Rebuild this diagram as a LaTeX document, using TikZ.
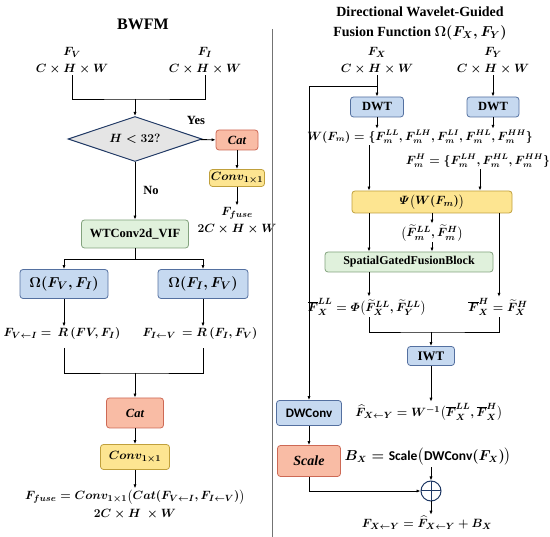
\documentclass[tikz,border=0pt]{standalone}
\usepackage{amsmath}
\usepackage{fontspec}
\setmainfont{Liberation Serif}
\newfontfamily\carlito{Carlito}
\usetikzlibrary{shapes.geometric,arrows.meta}
\definecolor{azulF}{RGB}{198,217,240}
\definecolor{azulD}{RGB}{84,112,160}
\definecolor{salmaoF}{RGB}{249,188,165}
\definecolor{salmaoD}{RGB}{205,105,85}
\definecolor{amareloF}{RGB}{253,229,145}
\definecolor{amareloD}{RGB}{192,160,60}
\definecolor{verdeF}{RGB}{224,241,220}
\definecolor{verdeD}{RGB}{130,162,125}
\definecolor{marinho}{RGB}{31,56,100}
\tikzset{
  arr/.style={-{Latex[length=4pt,width=3.2pt]}},
  caixa/.style={draw, rounded corners=3pt, line width=0.8pt, inner sep=1pt},
  azul/.style={caixa, fill=azulF, draw=azulD},
  salmao/.style={caixa, fill=salmaoF, draw=salmaoD},
  amarelo/.style={caixa, fill=amareloF, draw=amareloD},
  verde/.style={caixa, fill=verdeF, draw=verdeD},
  rotulo/.style={inner sep=1pt},
}
\begin{document}
\begin{tikzpicture}[x=1pt, y=-1pt, line width=0.9pt, font=\fontsize{12.5}{14}\selectfont\bfseries\boldmath] %Escala em pixels
	\useasboundingbox (0,0) rectangle (550,537);
		%Painel esquerdo: BWFM
	\node[font=\fontsize{16}{18}\selectfont\bfseries] (tit1) at (143,24) {BWFM};
	\node[rotulo] (fv) at (72,52) {$F_V$};
	\node[rotulo] (fvd) at (72,69) {$C\times H\times W$};
	\node[rotulo] (fi) at (205,52) {$F_I$};
	\node[rotulo] (fid) at (205,69) {$C\times H\times W$};
	\coordinate (jn1) at (135,99);
	\node[diamond, draw=marinho, fill=black!10, line width=1pt, aspect=3, minimum width=134pt, minimum height=45pt, inner sep=0pt] (cond) at (135,139) {$H<32?$};
	\draw (fvd) |- (jn1) -| (fid); %Junção das entradas
	\draw[arr] (jn1) -- (cond);
	\node (yes) at (196,120) {Yes};
	\node[salmao, minimum width=42pt, minimum height=20pt] (cat1) at (237,140) {$\mathit{Cat}$};
	\node[amarelo, minimum width=55pt, minimum height=17pt] (conv1) at (237,178) {$Conv_{1\times1}$};
	\node[rotulo] (ff1) at (237,213) {$F_{fuse}$};
	\node[rotulo] (ff1d) at (237,229) {$2C\times H\times W$};
	\draw[arr] (cond) -- (cat1);
	\draw[arr] (cat1) -- (conv1);
	\draw[arr] (conv1) -- (ff1);
	\node (no) at (151,190) {No};
	\node[verde, minimum width=107pt, minimum height=28pt] (wt) at (135,234) {WTConv2d\_VIF};
	\draw[arr] (cond) -- (wt);
	\coordinate (sp) at (135,259);
	\node[azul, minimum width=88pt, minimum height=29pt, font=\fontsize{15}{17}\selectfont\bfseries\boldmath] (om1) at (64,284) {$\Omega(F_V, F_I)$};
	\node[azul, minimum width=90pt, minimum height=29pt, font=\fontsize{15}{17}\selectfont\bfseries\boldmath] (om2) at (203,284) {$\Omega(F_I, F_V)$};
	\draw (wt) -- (sp);
	\draw[arr] (sp) -| (om1);
	\draw[arr] (sp) -| (om2);
	\node[rotulo] (r1) at (62,334) {$F_{V\leftarrow I}=\,R\,(FV, F_I)$};
	\node[rotulo] (r2) at (200,334) {$F_{I\leftarrow V}\,=R\,(F_I, F_V)$};
	\draw[arr] (om1) -- (om1 |- r1.north);
	\draw[arr] (om2) -- (om2 |- r2.north);
	\coordinate (jn2) at (135,373);
	\draw (om1 |- 0,348) |- (jn2) -| (om2 |- 0,348); %Junção dos ramos
	\node[salmao, minimum width=57pt, minimum height=30pt] (cat2) at (135,413) {$\mathit{Cat}$};
	\node[amarelo, minimum width=69pt, minimum height=25pt] (conv2) at (135,457) {$Conv_{1\times1}$};
	\node[rotulo] (ff2) at (135,497) {$F_{fuse}=Conv_{1\times1}\big(Cat(F_{V\leftarrow I}, F_{I\leftarrow V})\big)$};
	\node[rotulo] (ff2d) at (135,514) {$2C\times H\ \times W$};
	\draw[arr] (jn2) -- (cat2);
	\draw[arr] (cat2) -- (conv2);
	\draw[arr] (conv2) -- (ff2);
		%Divisória
	\draw[black!55, line width=1pt] (272,29) -- (272,537);
		%Painel direito: função de fusão
	\node[font=\fontsize{14}{16}\selectfont\bfseries] (tit2) at (420,12) {Directional Wavelet-Guided};
	\node[font=\fontsize{14}{16}\selectfont\bfseries\boldmath] (tit3) at (420,33) {Fusion Function $\Omega(F_X, F_Y)$};
	\node[rotulo] (fx) at (377,52) {$F_X$};
	\node[rotulo] (fxd) at (377,69) {$C\times H\times W$};
	\node[rotulo] (fy) at (493,52) {$F_Y$};
	\node[rotulo] (fyd) at (493,69) {$C\times H\times W$};
	\node[azul, minimum width=53pt, minimum height=20pt] (dwt1) at (377,107) {DWT};
	\node[azul, minimum width=52pt, minimum height=20pt] (dwt2) at (493,107) {DWT};
	\coordinate (fb) at (377,86);
	\draw[arr] (fxd) -- (dwt1);
	\draw[arr] (fyd) -- (dwt2);
	\node[rotulo, font=\fontsize{12}{14}\selectfont\bfseries\boldmath] (wf) at (420,137) {$W(F_m)=\{F_m^{LL}, F_m^{LH}, F_m^{LI}, F_m^{HL}, F_m^{HH}\}$};
	\node[rotulo, font=\fontsize{12}{14}\selectfont\bfseries\boldmath] (fh) at (478,161) {$F_m^{H}=\{F_m^{LH}, F_m^{HL}, F_m^{HH}\}$};
	\draw[arr] (dwt1) -- (dwt1 |- wf.north);
	\draw[arr] (dwt2) -- (dwt2 |- wf.north);
	\node[amarelo, minimum width=160pt, minimum height=22pt] (psi) at (432,202) {$\varPsi\big(W(F_m)\big)$};
	\coordinate (lx) at (369,0);
	\coordinate (rx) at (499,0);
	\draw[arr] (wf.south -| lx) -- (psi.north -| lx);
	\draw[arr] (fh.south -| 480,0) -- (psi.north -| 480,0);
	\node[rotulo] (ft) at (432,233) {$\big(\widetilde F_m^{LL}, \widetilde F_m^{H}\big)$};
	\node[verde, minimum width=168pt, minimum height=20pt, font=\fontsize{12}{14}\selectfont\bfseries] (sg) at (409,262) {SpatialGatedFusionBlock};
	\draw[arr] (psi.south -| lx) -- (sg.north -| lx);
	\draw[arr] (psi.south -| ft) -- (ft);
	\draw[arr] (ft) -- (sg.north -| ft);
	\node[rotulo] (fbl) at (367,307) {$\overline F_X^{LL}=\varPhi\big(\widetilde F_X^{LL}, \widetilde F_Y^{LL}\big)$};
	\node[rotulo] (fbh) at (498,307) {$\overline F_X^{H}=\widetilde F_X^{H}$};
	\draw[arr] (sg.south -| lx) -- (fbl.north -| lx);
	\draw[arr] (psi.south -| rx) -- (fbh.north -| rx);
	\coordinate (jn3) at (431,332);
	\draw (fbl.south -| lx) |- (jn3) -| (fbh.south -| rx); %Junção LL e H
	\node[azul, minimum width=47pt, minimum height=19pt, font=\fontsize{13}{15}\selectfont\bfseries] (iwt) at (431,356) {IWT};
	\draw[arr] (jn3) -- (iwt);
	\node[rotulo] (fhat) at (429,412) {$\widehat F_{X\leftarrow Y}=W^{-1}\big(\overline F_X^{LL}, \overline F_X^{H}\big)$};
	\draw[arr] (iwt) -- (iwt |- fhat.north);
	\node[azul, minimum width=65pt, minimum height=25pt, font=\fontsize{13}{15}\carlito\bfseries] (dwc) at (309,413) {DWConv};
	\node[salmao, minimum width=63pt, minimum height=31pt, font=\fontsize{14}{16}\selectfont\bfseries\boldmath] (sc) at (309,461) {$\mathit{Scale}$};
	\draw[arr] (fb) -| (dwc); %Atalho de F_X
	\draw[arr] (dwc) -- (sc);
	\node[rotulo, font=\fontsize{13.5}{15}\selectfont\bfseries\boldmath] (bx) at (428,457) {$B_X=\text{\carlito\bfseries Scale}\big(\text{\carlito\bfseries DWConv}(F_X)\big)$};
	\node[circle, draw=marinho, line width=1pt, minimum size=20pt, inner sep=0pt,
	  path picture={\draw[marinho, line width=1pt] (path picture bounding box.north) -- (path picture bounding box.south) (path picture bounding box.west) -- (path picture bounding box.east);}] (soma) at (431,491) {};
	\draw[arr] (bx.south -| soma) -- (soma);
	\draw[arr] (sc) |- (soma);
	\node[rotulo] (fout) at (427,523) {$F_{X\leftarrow Y}=\widehat F_{X\leftarrow Y}+B_X$};
	\draw[arr] (soma) -- (soma |- fout.north);
\end{tikzpicture}
\end{document}
